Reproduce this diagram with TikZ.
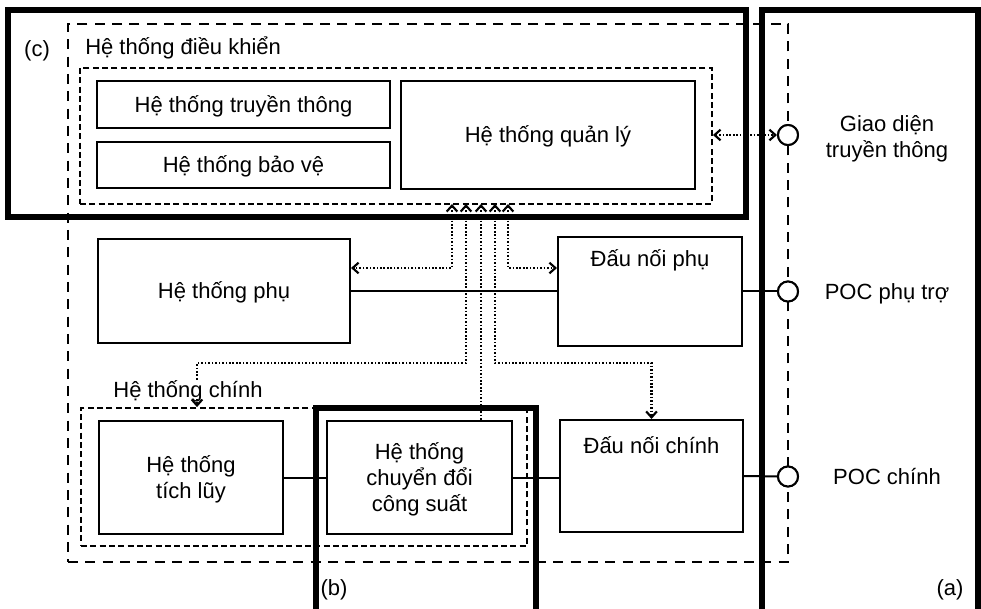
\documentclass[tikz,border=0pt]{standalone}
\usepackage{fontspec}
\setmainfont{Liberation Sans}
\usetikzlibrary{arrows.meta}
\begin{document}
\begin{tikzpicture}[x=0.75pt,y=-0.75pt,
  font=\fontsize{16.5}{19.5}\selectfont,
  >={Straight Barb[length=4.5pt,width=8pt]},
  span/.style args={#1/#2/#3/#4}{anchor=center, at={({(#1+#3)/2},{(#2+#4)/2})},
     minimum width={(#3-#1)*0.75pt}, minimum height={(#4-#2)*0.75pt}},
  box/.style={draw, line width=1.5pt, inner sep=0pt, align=center, text height=11.8pt, text depth=0pt},
  twoline/.style={text height=31.3pt, text depth=0pt},
  threeline/.style={text height=50.8pt, text depth=0pt},
  thickbox/.style={line width=3.8pt},
  outerdash/.style={draw, line width=1.9pt, dash pattern=on 7.5pt off 5.5pt, inner sep=0pt},
  innerdash/.style={draw, line width=1.4pt, dash pattern=on 4.5pt off 2.5pt, inner sep=0pt},
  dotarr/.style={line width=1.6pt, dash pattern=on 1.2pt off 1.4pt},
  conn/.style={line width=1.5pt},
  port/.style={circle, draw, fill=white, line width=1.5pt, minimum size=15pt, inner sep=0pt},
  lbl/.style={inner sep=0pt, text height=11.8pt, text depth=0pt}
]
\useasboundingbox (0,0) rectangle (981,609);

% outer dashed system boundary
\node[outerdash, span=68/24/788/562] (outer) {};

% control system
\node[inner sep=0pt, anchor=base west] (ctrltitle) at (85,55) {Hệ thống điều khiển};
\node[innerdash, span=80/68/712/204] (ctrlIn) {};
\node[box, span=97/81/390/128] (comm) {Hệ thống truyền thông};
\node[box, span=97/142/390/188] (prot) {Hệ thống bảo vệ};
\node[box, span=401/81/695/189] (mgmt) {Hệ thống quản lý};

% auxiliary
\node[box, span=98/239/350/343] (aux) {Hệ thống phụ};
\node[box, span=558/237/742/346, text height=22.5pt, text depth=59.25pt] (auxconn) {Đấu nối phụ};

% main system
\node[innerdash, span=81/408/527/546] (mainsys) {};
\node[box, twoline, span=99/421/283/534] (stor) {Hệ thống\\tích lũy};
\node[box, threeline, span=327/421/512/534] (pcs) {Hệ thống\\chuyển đổi\\công suất};
\node[box, span=560/420/743/532, text height=24.75pt, text depth=59.25pt] (mainconn) {Đấu nối chính};

% thick boundaries (a), (b), (c)
\draw[thickbox] (8,10) rectangle (746,217);
\draw[thickbox] (762,620) -- (762,10) -- (978,10) -- (978,620);
\draw[thickbox] (316,620) -- (316,408) -- (536,408) -- (536,620);

\node[lbl] (labc) at (37,49) {(c)};
\node[lbl] (laba) at (950,588) {(a)};
\node[lbl] (labb) at (334,588) {(b)};

% ports
\node[port] (ci) at (788,135) {};
\node[port] (cp) at (788,291.5) {};
\node[port] (cm) at (788,476.5) {};
\node[lbl, align=center, twoline] (cit) at (887,137) {Giao diện\\truyền thông};
\node[lbl] (cpt) at (887,292) {POC phụ trợ};
\node[lbl] (cmt) at (887,476.5) {POC chính};

% coordinates for the dotted signal lines
\coordinate (t1) at (452,204);
\coordinate (t2) at (466,204);
\coordinate (t3) at (481,204);
\coordinate (t4) at (495,204);
\coordinate (t5) at (508,204);
\coordinate (h1) at (0,268);
\coordinate (h2) at (0,363);
\coordinate (v2) at (197,0);

\draw[dotarr,<->] (t1) |- (aux.east |- h1);
\draw[dotarr,<->] (t5) |- (auxconn.west |- h1);
\draw[dotarr,<->] (t2) |- (h2 -| v2) -- (mainsys.north -| v2);
\draw[dotarr,<-] (t3) -- (pcs.north -| t3);
\draw[dotarr,<->] (t4) |- (h2 -| mainconn.north) -- (mainconn.north);
\draw[dotarr,<->] (ci.west -| ctrlIn.east) -- (ci.west);

% solid power connections
\draw[conn] (aux.east) -- (aux.east -| auxconn.west);
\draw[conn] (auxconn.east) -- (cp.west);
\draw[conn] (stor.east) -- (stor.east -| pcs.west);
\draw[conn] (pcs.east) -- (pcs.east -| mainconn.west);
\draw[conn] (mainconn.east) -- (cm.west);

% redraw ports on top
\node[port] at (ci) {};
\node[port] at (cp) {};
\node[port] at (cm) {};

\node[lbl, fill=white, inner sep=1pt] (mstitle) at (188,390) {Hệ thống chính};
\end{tikzpicture}
\end{document}
